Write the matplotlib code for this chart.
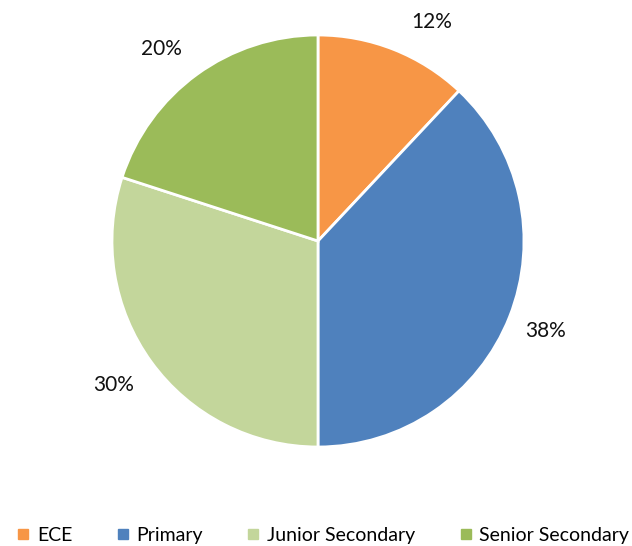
import matplotlib
matplotlib.use("Agg")
import matplotlib.pyplot as plt
from matplotlib.lines import Line2D

categories = ['ECE', 'Primary', 'Junior Secondary', 'Senior Secondary']
shares = [12, 38, 30, 20]
colors = ['#F79646', '#4F81BD', '#C3D69B', '#9BBB59']

plt.rcParams['font.family'] = ['Lato', 'DejaVu Sans']

fig = plt.figure(figsize=(6.32, 5.46), dpi=100)
ax = fig.add_axes([0.1772, 0.1813, 0.6519, 0.7546])

wedges, texts = ax.pie(shares, colors=colors, startangle=90, counterclock=False,
                       labels=[f'{v}%' for v in shares], labeldistance=1.19,
                       wedgeprops=dict(edgecolor='white', linewidth=2),
                       textprops=dict(fontsize=15, color='#111111'))
for t in texts:
    t.set_ha('center')
    t.set_va('center')
# small nudges so labels sit where the original puts them
x, y = texts[0].get_position()
texts[0].set_position((x + 0.115, y - 0.043))
x, y = texts[2].get_position()
texts[2].set_position((x - 0.03, y))
x, y = texts[3].get_position()
texts[3].set_position((x - 0.06, y - 0.03))
ax.set_xlim(-1, 1)
ax.set_ylim(-1, 1)
ax.set_aspect('equal')

handles = [Line2D([0], [0], marker='s', linestyle='none', markersize=7,
                  markerfacecolor=c, markeredgecolor=c) for c in colors]
fig.legend(handles, categories, loc='center', bbox_to_anchor=(0.51, 0.02),
           ncol=4, frameon=False, fontsize=14, handletextpad=0.3,
           columnspacing=2.2, handlelength=0.8)

fig.savefig('out.png', dpi=100)
